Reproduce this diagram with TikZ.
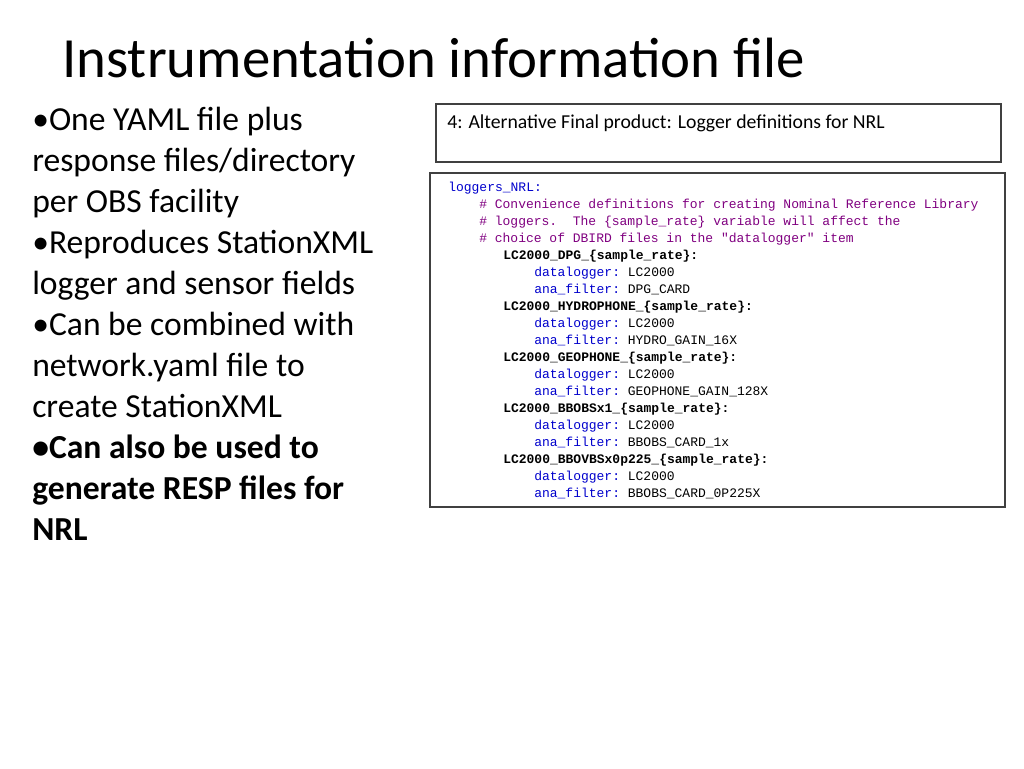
\documentclass[tikz,border=0pt]{standalone}
\usepackage{fontspec}
\setmainfont{Carlito}
\setmonofont{Liberation Mono}
\begin{document}
\begin{tikzpicture}[x=0.75pt,y=-0.75pt,
  bul/.style={anchor=base west,inner sep=0pt,font=\fontsize{25.2pt}{30pt}\selectfont},
  code/.style={anchor=base west,inner sep=0pt,font=\ttfamily\fontsize{9.75pt}{11pt}\selectfont},
  key/.style={code,text=blue!80!black},
  cmt/.style={code,text={rgb,255:red,128;green,0;blue,128}},
  hd/.style={code,font=\ttfamily\bfseries\fontsize{9.75pt}{11pt}\selectfont}]
\useasboundingbox (0,0) rectangle (1024,768);
\node[anchor=base west,inner sep=0pt,font=\fontsize{42.6pt}{50pt}\selectfont] (title) at (62,77) {Instrumentation information file};
\node[bul] (b1) at (32,130) {•One YAML file plus};
\node[bul] (b2) at (32,171) {response files/directory};
\node[bul] (b3) at (32,212) {per OBS facility};
\node[bul] (b4) at (32,253) {•Reproduces StationXML};
\node[bul] (b5) at (32,294) {logger and sensor fields};
\node[bul] (b6) at (32,335) {•Can be combined with};
\node[bul] (b7) at (32,376) {network.yaml file to};
\node[bul] (b8) at (32,417) {create StationXML};
\node[bul,font=\bfseries\fontsize{25.2pt}{30pt}\selectfont] (b9) at (32,458) {•Can also be used to};
\node[bul,font=\bfseries\fontsize{25.2pt}{30pt}\selectfont] (b10) at (32,499) {generate RESP files for};
\node[bul,font=\bfseries\fontsize{25.2pt}{30pt}\selectfont] (b11) at (32,540) {NRL};
\draw[black!75,line width=0.8pt] (436,104) rectangle (1001,162);
\node[anchor=base west,inner sep=0pt,font=\fontsize{14.8pt}{17pt}\selectfont] (hdr) at (447,128) {4: Alternative Final product: Logger definitions for NRL};
\draw[black!75,line width=0.8pt] (430,173) rectangle (1005,507);
\node[key] (l1) at (448,191) {loggers\_NRL:};
\node[cmt] (l2) at (479,208) {\# Convenience definitions for creating Nominal Reference Library};
\node[cmt] (l3) at (479,225) {\# loggers.\ \ The \{sample\_rate\} variable will affect the};
\node[cmt] (l4) at (479,242) {\# choice of DBIRD files in the "datalogger" item};
\node[hd] (l5) at (503,259) {LC2000\_DPG\_\{sample\_rate\}:};
\node[key] (l6) at (534,276) {datalogger: \textcolor{black}{LC2000}};
\node[key] (l7) at (534,293) {ana\_filter: \textcolor{black}{DPG\_CARD}};
\node[hd] (l8) at (503,310) {LC2000\_HYDROPHONE\_\{sample\_rate\}:};
\node[key] (l9) at (534,327) {datalogger: \textcolor{black}{LC2000}};
\node[key] (l10) at (534,344) {ana\_filter: \textcolor{black}{HYDRO\_GAIN\_16X}};
\node[hd] (l11) at (503,361) {LC2000\_GEOPHONE\_\{sample\_rate\}:};
\node[key] (l12) at (534,378) {datalogger: \textcolor{black}{LC2000}};
\node[key] (l13) at (534,395) {ana\_filter: \textcolor{black}{GEOPHONE\_GAIN\_128X}};
\node[hd] (l14) at (503,412) {LC2000\_BBOBSx1\_\{sample\_rate\}:};
\node[key] (l15) at (534,429) {datalogger: \textcolor{black}{LC2000}};
\node[key] (l16) at (534,446) {ana\_filter: \textcolor{black}{BBOBS\_CARD\_1x}};
\node[hd] (l17) at (503,463) {LC2000\_BBOVBSx0p225\_\{sample\_rate\}:};
\node[key] (l18) at (534,480) {datalogger: \textcolor{black}{LC2000}};
\node[key] (l19) at (534,497) {ana\_filter: \textcolor{black}{BBOBS\_CARD\_0P225X}};
\end{tikzpicture}
\end{document}
